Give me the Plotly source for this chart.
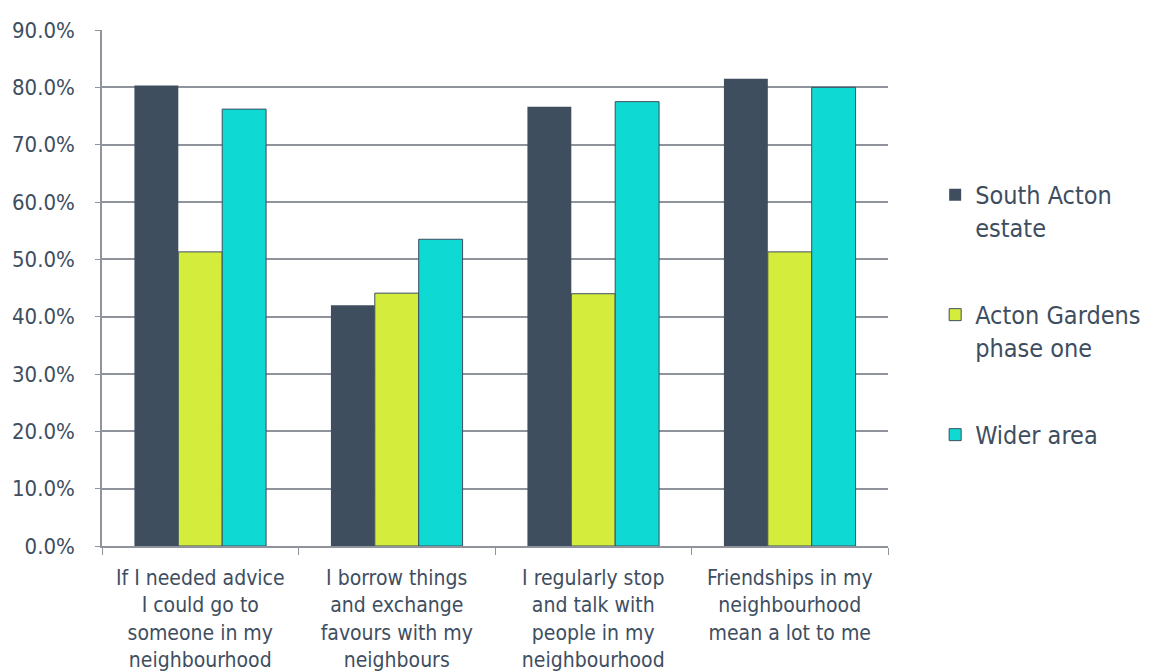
import plotly.graph_objects as go

categories = [
    "If I needed advice<br>I could go to<br>someone in my<br>neighbourhood",
    "I borrow things<br>and exchange<br>favours with my<br>neighbours",
    "I regularly stop<br>and talk with<br>people in my<br>neighbourhood",
    "Friendships in my<br>neighbourhood<br>mean a lot to me",
]
series_names = ["South Acton<br>estate", "Acton Gardens<br>phase one", "Wider area"]
south_acton = [80.3, 42.0, 76.6, 81.5]
acton_gardens = [51.3, 44.1, 44.0, 51.3]
wider_area = [76.2, 53.5, 77.5, 80.0]
y_ticks = [0, 10, 20, 30, 40, 50, 60, 70, 80, 90]

TEXT = "#3E4E5F"
GRID = "#8E939C"
FONT = "DejaVu Sans Condensed, sans-serif"

colors = ["#3E4E5F", "#D4ED3C", "#0FD9D3"]
lines = [0, 1, 1]
values = [south_acton, acton_gardens, wider_area]

fig = go.Figure()
for i, (name, vals) in enumerate(zip(series_names, values)):
    fig.add_trace(go.Bar(
        x=categories, y=vals, name=name,
        legendgroup=f"g{i}",
        marker=dict(color=colors[i], line=dict(color=TEXT, width=lines[i])),
    ))

fig.update_layout(
    width=1151, height=671,
    margin=dict(l=94, r=271, t=22, b=133),
    paper_bgcolor="white", plot_bgcolor="white",
    barmode="group", bargap=0.33, bargroupgap=0,
    font=dict(family=FONT, size=20, color=TEXT),
    legend=dict(
        x=1.06, y=0.725, xanchor="left", yanchor="top",
        valign="top", tracegroupgap=52,
        font=dict(family=FONT, size=25, color=TEXT),
        itemwidth=30,
    ),
    xaxis=dict(
        automargin=False,
        showline=True, linecolor=GRID, linewidth=1.5,
        ticks="outside", tickson="boundaries", ticklen=7, tickcolor=GRID,
        tickfont=dict(size=21, color=TEXT),
        ticklabelstandoff=12,
    ),
    yaxis=dict(
        automargin=False,
        range=[0, 90], tickvals=y_ticks,
        ticktext=[f"{v:.1f}%" for v in y_ticks],
        showline=True, linecolor=GRID, linewidth=1.5,
        ticks="outside", ticklen=5, tickcolor=GRID,
        showgrid=True, gridcolor=GRID, gridwidth=1.5,
        zeroline=False,
        tickfont=dict(size=22, color=TEXT),
        ticklabelstandoff=16,
    ),
)

fig.write_html("out.html")
